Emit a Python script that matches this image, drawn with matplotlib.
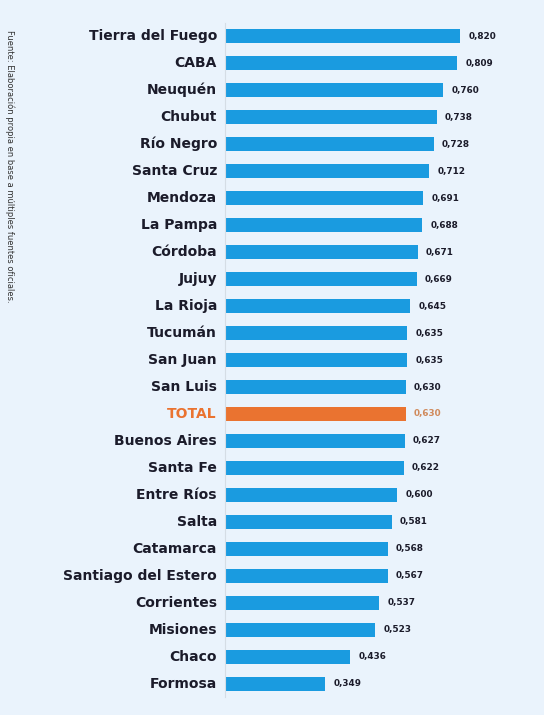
import matplotlib.pyplot as plt

plt.rcParams["font.family"] = "DejaVu Sans"

provincias = ["Tierra del Fuego", "CABA", "Neuquén", "Chubut", "Río Negro",
              "Santa Cruz", "Mendoza", "La Pampa", "Córdoba", "Jujuy",
              "La Rioja", "Tucumán", "San Juan", "San Luis", "TOTAL",
              "Buenos Aires", "Santa Fe", "Entre Ríos", "Salta", "Catamarca",
              "Santiago del Estero", "Corrientes", "Misiones", "Chaco", "Formosa"]
valores = [0.820, 0.809, 0.760, 0.738, 0.728, 0.712, 0.691, 0.688, 0.671, 0.669,
           0.645, 0.635, 0.635, 0.630, 0.630, 0.627, 0.622, 0.600, 0.581, 0.568,
           0.567, 0.537, 0.523, 0.436, 0.349]
fuente = "Fuente: Elaboración propia en base a múltiples fuentes oficiales."

bg = "#eaf3fc"
azul = "#1a9be0"
naranja = "#ea7330"
texto = "#1b1b2a"

fig = plt.figure(figsize=(5.44, 7.15), dpi=100, facecolor=bg)
ax = fig.add_axes([225 / 544, 0.0245, 287 / 544, 0.944])
ax.set_facecolor(bg)

y = list(range(len(provincias)))
colores = [naranja if p == "TOTAL" else azul for p in provincias]
ax.barh(y, valores, height=0.49, color=colores)

for yi, p, v in zip(y, provincias, valores):
    es_total = p == "TOTAL"
    ax.text(-0.028, yi, p, ha="right", va="center", fontsize=10, fontweight="bold",
            color=naranja if es_total else texto)
    ax.text(v + 0.028, yi, f"{v:.3f}".replace(".", ","), ha="left", va="center",
            fontsize=6.4, fontweight="bold",
            color="#d08a5c" if es_total else texto)

ax.set_xlim(0, 1.0)
ax.set_ylim(len(provincias) - 0.5, -0.5)
ax.set_xticks([])
ax.set_yticks([])
for s in ["top", "right", "bottom"]:
    ax.spines[s].set_visible(False)
ax.spines["left"].set_color("#d5dde5")
ax.spines["left"].set_linewidth(0.8)

fig.text(10 / 544, 1 - 30 / 715, fuente, rotation=-90, ha="center", va="top",
         fontsize=6.0, color="#333333",
         family=["Liberation Sans Narrow", "DejaVu Sans"])

fig.savefig("out.png", dpi=100, facecolor=bg)
